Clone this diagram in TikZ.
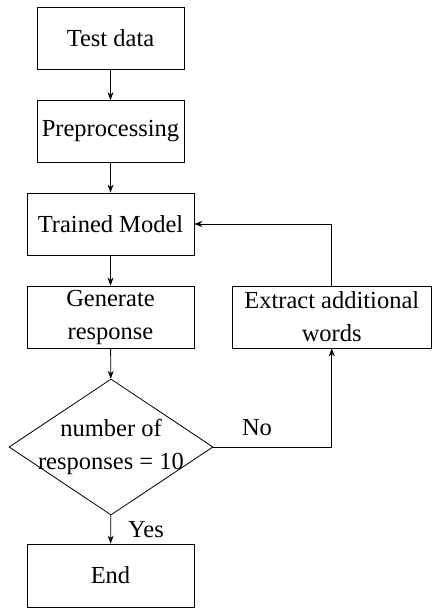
\documentclass[tikz,border=0pt]{standalone}
\usepackage{fontspec}
\setmainfont{Liberation Serif}
\usetikzlibrary{shapes.geometric,arrows.meta}
\begin{document}
\begin{tikzpicture}[x = 1pt, y = -1pt, line width = 0.8pt,
        box/.style = {draw, rectangle, minimum height = 62pt, inner sep = 0pt, align = center},
        decision/.style = {draw, diamond, minimum width = 204pt, minimum height = 136pt, inner sep = 0pt},
        arr/.style = {-{Stealth[length = 8pt, width = 6pt]}},
        every node/.append style = {font = \fontsize{24.5}{33}\selectfont}]
                \useasboundingbox (0,0) rectangle (432,608);
                \node[box, minimum width = 147pt] (test) at (110.5,38) {Test data};
                \node[box, minimum width = 147pt] (prep) at (110.5,131.5) {Preprocessing};
                \node[box, minimum width = 167pt] (model) at (110.5,224) {Trained Model};
                \node[box, minimum width = 167pt] (gen) at (110.5,317) {Generate\\response};
                \node[box, minimum width = 199.5pt] (extract) at (331.75,317) {Extract additional\\words};
                \node[decision] (check) at (111,447) {};
                \node[align = center] (checktext) at (check) {number of\\responses = 10};
                \node[box, minimum width = 167pt, minimum height = 63pt] (finish) at (110.5,575.5) {End};
                \node (no) at (257,428) {No};
                \node (yes) at (146,530) {Yes};
                \draw[arr] (test) -- (prep);
                \draw[arr] (prep) -- (model);
                \draw[arr] (model) -- (gen);
                \draw[arr] (gen) -- (check);
                \draw[arr] (check) -- (finish);
                \draw[arr] (check.east) -| (extract.south);
                \draw[arr] (extract.north) |- (model.east);
\end{tikzpicture}
\end{document}
